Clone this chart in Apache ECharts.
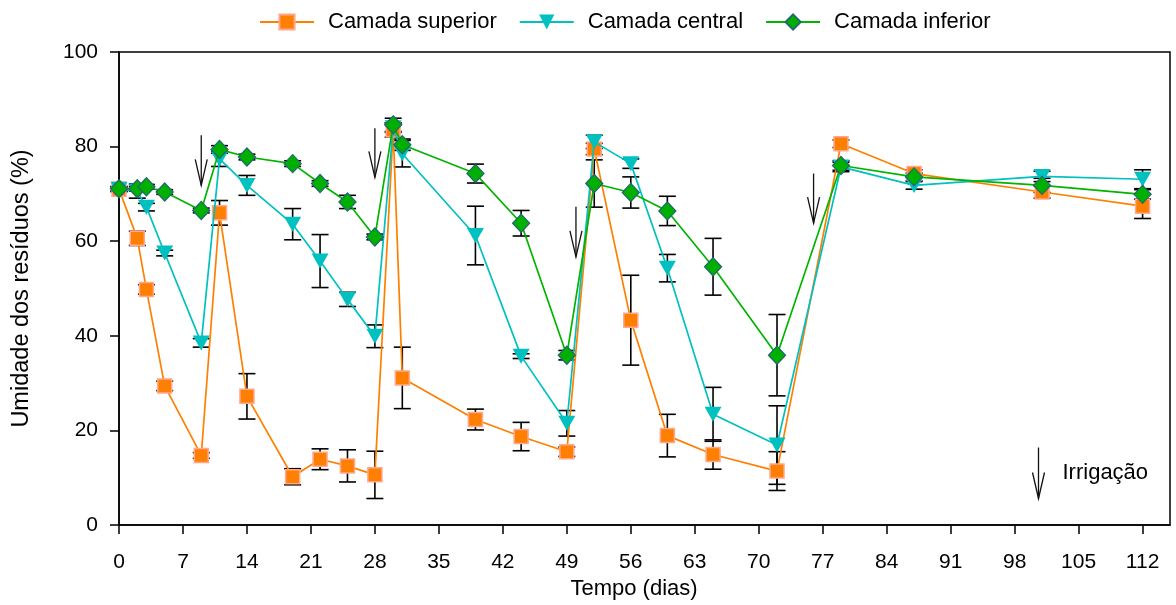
<!DOCTYPE html>
<html>
<head>
<meta charset="utf-8">
<script src="https://cdn.jsdelivr.net/npm/echarts@6/dist/echarts.min.js"></script>
<style>
html,body{margin:0;padding:0;background:#fff;}
#main{width:1176px;height:605px;}
</style>
</head>
<body>
<div id="main"></div>
<script>
// ---- data ----
const days = [0, 2, 3, 5, 9, 11, 14, 19, 22, 25, 28, 30, 31, 39, 44, 49, 52, 56, 60, 65, 72, 79, 87, 101, 112];

const superior    = [71.0, 60.6, 49.8, 29.4, 14.7, 66.0, 27.2, 10.2, 13.9, 12.5, 10.6, 83.5, 31.1, 22.3, 18.7, 15.5, 79.5, 43.3, 18.9, 14.9, 11.4, 80.6, 74.3, 70.4, 67.4];
const superiorErr = [0.5, 1.5, 1.0, 1.0, 0.6, 2.6, 4.8, 1.7, 2.2, 3.4, 5.0, 1.5, 6.5, 2.2, 3.0, 1.0, 1.2, 9.5, 4.5, 3.1, 4.1, 0.8, 0.8, 1.3, 2.6];

const central    = [71.0, 70.6, 67.2, 57.5, 38.5, 77.4, 71.8, 63.6, 55.8, 47.7, 39.9, 84.0, 78.5, 61.2, 35.7, 21.5, 81.0, 76.4, 54.3, 23.4, 16.9, 75.7, 71.8, 73.7, 73.1];
const centralErr = [0.5, 1.5, 0.8, 0.6, 0.9, 1.6, 2.1, 3.3, 5.6, 1.5, 2.4, 1.0, 2.8, 6.2, 0.5, 2.7, 1.4, 1.0, 2.9, 5.7, 8.3, 1.0, 0.8, 1.1, 2.0];

const inferior    = [71.1, 71.1, 71.5, 70.4, 66.5, 79.4, 77.8, 76.4, 72.2, 68.3, 60.9, 84.6, 80.4, 74.3, 63.8, 35.9, 72.2, 70.3, 66.4, 54.6, 35.9, 76.0, 73.6, 71.8, 69.9];
const inferiorErr = [0.5, 0.5, 0.5, 0.5, 0.5, 0.8, 0.6, 0.6, 0.6, 1.4, 0.6, 1.4, 1.2, 2.0, 2.7, 1.0, 5.0, 3.3, 3.1, 6.0, 8.6, 1.0, 0.8, 1.5, 1.0];

const xTicks = [0, 7, 14, 21, 28, 35, 42, 49, 56, 63, 70, 77, 84, 91, 98, 105, 112];
const seriesNames = ['Camada superior', 'Camada central', 'Camada inferior'];

// irrigation events (day) and arrow extents (in % units)
const irrigationDays = [9, 28, 50, 76];
const arrowTop    = [82.4, 83.9, 67.3, 74.3];
const arrowBottom = [71.8, 73.5, 56.7, 63.8];

// ---- chart ----
const FONT = '"Liberation Sans", Arial, sans-serif';
const chart = echarts.init(document.getElementById('main'), null, {renderer: 'canvas'});

function pts(vals) { return days.map((d, i) => [d, vals[i]]); }
function errPts(vals, errs) { return days.map((d, i) => [d, vals[i], errs[i]]); }

function errRender(params, api) {
  const x = api.value(0), y = api.value(1), e = api.value(2);
  const top = api.coord([x, y + e]);
  const bot = api.coord([x, y - e]);
  const w = 8.5;
  const st = {stroke: '#000', lineWidth: 1.6};
  return {
    type: 'group',
    children: [
      {type: 'line', shape: {x1: top[0], y1: top[1], x2: bot[0], y2: bot[1]}, style: st},
      {type: 'line', shape: {x1: top[0] - w, y1: top[1], x2: top[0] + w, y2: top[1]}, style: st},
      {type: 'line', shape: {x1: bot[0] - w, y1: bot[1], x2: bot[0] + w, y2: bot[1]}, style: st}
    ]
  };
}

function arrowRender(params, api) {
  const x = api.value(0);
  const p1 = api.coord([x, api.value(1)]);
  const p2 = api.coord([x, api.value(2)]);
  const st = {stroke: '#111', lineWidth: 1.3, fill: null};
  return {
    type: 'group',
    children: [
      {type: 'line', shape: {x1: p1[0], y1: p1[1], x2: p2[0], y2: p2[1]}, style: st},
      {type: 'polyline', shape: {points: [[p2[0] - 6, p2[1] - 26], [p2[0], p2[1]], [p2[0] + 6, p2[1] - 26]]}, style: st}
    ]
  };
}

const errSeries = (vals, errs) => ({
  type: 'custom',
  renderItem: errRender,
  data: errPts(vals, errs),
  z: 1,
  silent: true,
  encode: {x: 0, y: 1}
});

const option = {
  animation: false,
  backgroundColor: '#fff',
  textStyle: {fontFamily: FONT},
  grid: {left: 119, right: 6, top: 52, bottom: 80, show: true, borderColor: '#000', borderWidth: 1.5, backgroundColor: 'transparent'},
  legend: {
    data: seriesNames,
    left: 254,
    top: 6,
    itemWidth: 54,
    itemHeight: 19,
    itemGap: 22,
    textStyle: {fontFamily: FONT, fontSize: 22, color: '#000', padding: [0, 0, 0, 9]}
  },
  xAxis: {
    type: 'value',
    min: 0,
    max: 115,
    interval: 7,
    name: 'Tempo (dias)',
    nameLocation: 'middle',
    nameGap: 42,
    nameTextStyle: {fontFamily: FONT, fontSize: 22, color: '#000', padding: [0, 21, 0, 0]},
    axisLine: {show: true, lineStyle: {color: '#000', width: 1.5}},
    axisTick: {show: true, inside: false, length: 9, lineStyle: {color: '#000', width: 1.5}, customValues: xTicks},
    axisLabel: {fontFamily: FONT, fontSize: 21, color: '#000', margin: 27, customValues: xTicks},
    splitLine: {show: false}
  },
  yAxis: {
    type: 'value',
    min: 0,
    max: 100,
    interval: 20,
    name: 'Umidade dos resíduos (%)',
    nameLocation: 'middle',
    nameGap: 85,
    nameTextStyle: {fontFamily: FONT, fontSize: 23.5, color: '#000'},
    axisLine: {show: true, lineStyle: {color: '#000', width: 1.5}},
    axisTick: {show: true, inside: false, length: 9, lineStyle: {color: '#000', width: 1.5}},
    axisLabel: {fontFamily: FONT, fontSize: 21, color: '#000', margin: 21},
    splitLine: {show: false}
  },
  graphic: [{
    type: 'group',
    left: 1030,
    top: 445,
    children: [
      {type: 'line', shape: {x1: 9, y1: 0, x2: 9, y2: 51}, style: {stroke: '#111', lineWidth: 1.3}},
      {type: 'polyline', shape: {points: [[3, 25], [9, 51], [15, 25]]}, style: {stroke: '#111', lineWidth: 1.3, fill: null}},
      {type: 'text', x: 33, y: 25, style: {text: 'Irrigação', font: '22px ' + FONT, fill: '#000', verticalAlign: 'middle', align: 'left'}}
    ]
  }],
  series: [
    errSeries(superior, superiorErr),
    errSeries(central, centralErr),
    errSeries(inferior, inferiorErr),
    {
      name: seriesNames[0],
      type: 'line',
      data: pts(superior),
      z: 2,
      symbol: 'rect',
      symbolSize: 14,
      showAllSymbol: true,
      lineStyle: {color: '#ff7f00', width: 1.7},
      itemStyle: {color: '#ff7f00', borderColor: '#ffa890', borderWidth: 1.5}
    },
    {
      name: seriesNames[1],
      type: 'line',
      data: pts(central),
      z: 3,
      symbol: 'path://M0,0 L16,0 L8,14 Z',
      symbolSize: [17, 15],
      showAllSymbol: true,
      lineStyle: {color: '#00c0c0', width: 1.7},
      itemStyle: {color: '#00c0c0', borderWidth: 0}
    },
    {
      name: seriesNames[2],
      type: 'line',
      data: pts(inferior),
      z: 4,
      symbol: 'diamond',
      symbolSize: [17, 18],
      showAllSymbol: true,
      lineStyle: {color: '#00b400', width: 1.7},
      itemStyle: {color: '#00b000', borderColor: '#1f6b6b', borderWidth: 1.3}
    },
    {
      type: 'custom',
      renderItem: arrowRender,
      data: irrigationDays.map((d, i) => [d, arrowTop[i], arrowBottom[i]]),
      z: 5,
      silent: true,
      encode: {x: 0, y: [1, 2]}
    }
  ]
};
chart.setOption(option);
</script>
</body>
</html>
